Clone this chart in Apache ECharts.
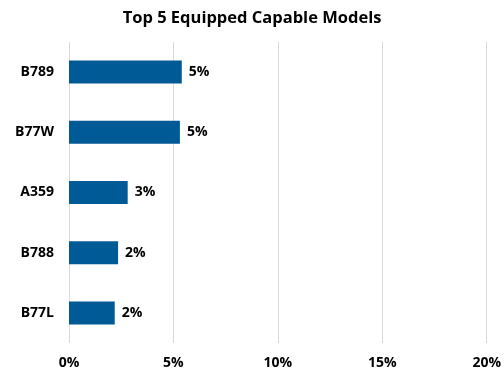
<!DOCTYPE html>
<html>
<head>
<meta charset="utf-8">
<script src="https://cdn.jsdelivr.net/npm/echarts@6/dist/echarts.min.js"></script>
<style>html,body{margin:0;padding:0;background:#fff}#c{width:504px;height:374px}</style>
</head>
<body>
<div id="c"></div>
<script>
const categories = ['B789', 'B77W', 'A359', 'B788', 'B77L'];
const values = [5.4, 5.31, 2.81, 2.35, 2.19];
const xTicks = [0, 5, 10, 15, 20];
const titleText = 'Top 5 Equipped Capable Models';

const FONT = 'Open Sans';
const chart = echarts.init(document.getElementById('c'), null, {renderer: 'canvas'});
chart.setOption({
  animation: false,
  title: {
    text: titleText, left: 'center', top: 5,
    textStyle: {fontFamily: FONT, fontWeight: 'bold', fontSize: 16.5, color: '#000'}
  },
  grid: {left: 69, right: 12.3, top: 42, bottom: 31, containLabel: false},
  xAxis: {
    type: 'value', min: xTicks[0], max: xTicks[xTicks.length - 1], interval: 5,
    axisLine: {show: false}, axisTick: {show: false},
    splitLine: {show: true, lineStyle: {color: '#d9d9d9', width: 1}},
    axisLabel: {formatter: '{value}%', margin: 13, fontFamily: FONT, fontWeight: 'bold', fontSize: 14, color: '#000'}
  },
  yAxis: {
    type: 'category', data: categories, inverse: true,
    axisLine: {show: false}, axisTick: {show: false},
    axisLabel: {margin: 15, fontFamily: FONT, fontWeight: 'bold', fontSize: 14, color: '#000'}
  },
  series: [{
    type: 'bar', data: values, barWidth: 23,
    itemStyle: {color: '#005a96'},
    label: {
      show: true, position: 'right', distance: 7,
      formatter: p => Math.round(p.value) + '%',
      fontFamily: FONT, fontWeight: 'bold', fontSize: 14, color: '#000'
    }
  }]
});
</script>
</body>
</html>
